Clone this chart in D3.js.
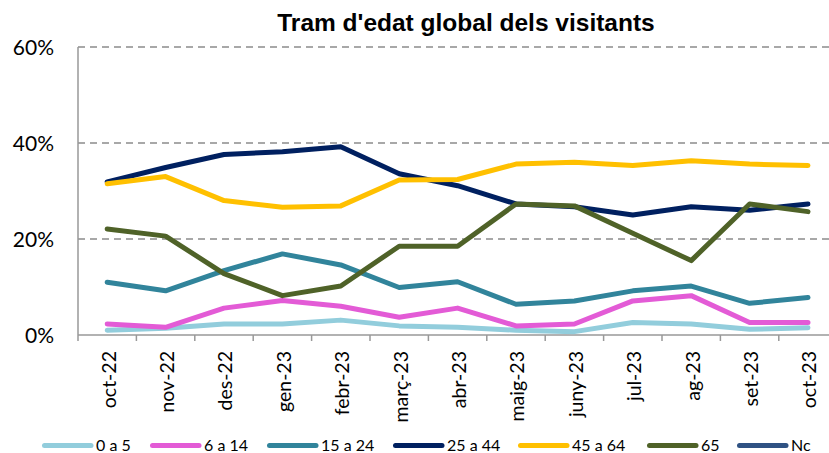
<!DOCTYPE html>
<html><head><meta charset="utf-8">
<script src="https://cdn.jsdelivr.net/npm/d3@7"></script>
<style>body{margin:0;background:#fff}svg{display:block}</style>
</head><body><svg id="c" width="829" height="453"></svg>
<script>
const categories = ["oct-22","nov-22","des-22","gen-23","febr-23","març-23","abr-23","maig-23","juny-23","jul-23","ag-23","set-23","oct-23"];
const s0a5   = [1.0,1.4,2.3,2.3,3.1,1.9,1.6,1.0,0.7,2.6,2.3,1.2,1.5];
const s6a14  = [2.3,1.6,5.6,7.2,6.0,3.7,5.6,1.9,2.3,7.1,8.2,2.6,2.6];
const s15a24 = [11.0,9.2,13.4,16.9,14.6,9.9,11.1,6.4,7.1,9.2,10.2,6.6,7.8];
const s25a44 = [31.9,34.9,37.6,38.2,39.2,33.6,31.1,27.3,26.7,25.0,26.7,26.0,27.3];
const s45a64 = [31.5,33.0,28.0,26.6,26.9,32.3,32.4,35.6,36.0,35.3,36.3,35.6,35.3];
const s65    = [22.1,20.6,12.8,8.2,10.2,18.5,18.5,27.3,26.9,21.2,15.5,27.3,25.7];
const sNc    = [null,null,null,null,null,null,null,null,null,null,null,null,null];
const seriesNames = ["0 a 5","6 a 14","15 a 24","25 a 44","45 a 64","65","Nc"];
const seriesColors = ["#92CDDC","#E35BD6","#31849B","#002060","#FFC000","#4F6228","#2F5283"];
const yTicks = [0,20,40,60];
const title = "Tram d'edat global dels visitants";

(function(){
const series = [s0a5,s6a14,s15a24,s25a44,s45a64,s65,sNc];
const svg = d3.select("#c");
const pLeft = 78, pBottom = 335, pTop = 47, band = 58.4;
const x = d3.scaleBand().domain(categories).range([pLeft, pLeft + band*categories.length]);
const y = d3.scaleLinear().domain([0,60]).range([pBottom, pTop]);

svg.append("text").attr("x",466).attr("y",31).attr("text-anchor","middle")
  .attr("font-family","Liberation Sans, Arial, sans-serif").attr("font-weight","bold")
  .attr("font-size",24.5).attr("fill","#000").text(title);

svg.append("g").selectAll("line").data(yTicks.filter(d=>d>0)).join("line")
  .attr("x1",pLeft).attr("x2",829).attr("y1",d=>y(d)).attr("y2",d=>y(d))
  .attr("stroke","#8c8c8c").attr("stroke-width",1.5).attr("stroke-dasharray","7,5");

const yAxis = d3.axisLeft(y).tickValues(yTicks).tickSize(0).tickFormat(d=>d+"%");
const gy = svg.append("g").attr("transform",`translate(${pLeft},0)`).call(yAxis);
gy.select(".domain").remove();
gy.selectAll("text").attr("x",-24).attr("dy","0.36em").attr("font-size",21)
  .attr("font-family","Lato, Carlito, sans-serif").attr("fill","#000");
svg.append("line").attr("x1",pLeft).attr("x2",pLeft).attr("y1",pTop).attr("y2",pBottom)
  .attr("stroke","#999").attr("stroke-width",1.5);

const xAxis = d3.axisBottom(x).tickSize(0);
const gx = svg.append("g").attr("transform",`translate(0,${pBottom})`).call(xAxis);
gx.select(".domain").remove();
gx.selectAll("text").attr("transform","rotate(-90)").attr("text-anchor","end")
  .attr("x",-16).attr("y",1.5).attr("dy","0.35em").attr("font-size",19.5)
  .attr("font-family","Lato, Carlito, sans-serif").attr("fill","#000");
svg.append("line").attr("x1",pLeft).attr("x2",829).attr("y1",pBottom).attr("y2",pBottom)
  .attr("stroke","#999").attr("stroke-width",1.5);
const bounds = categories.map(c=>x(c)).concat([x.range()[1]]);
svg.append("g").selectAll("line").data(bounds).join("line")
  .attr("x1",d=>d).attr("x2",d=>d).attr("y1",pBottom).attr("y2",pBottom+6)
  .attr("stroke","#999").attr("stroke-width",1.5);

const line = d3.line().defined(d=>d.v!=null).x(d=>x(d.c)+x.bandwidth()/2).y(d=>y(d.v));
series.forEach((s,i)=>{
  svg.append("path").datum(s.map((v,j)=>({c:categories[j],v})))
    .attr("d",line).attr("fill","none").attr("stroke",seriesColors[i])
    .attr("stroke-width",5).attr("stroke-linejoin","round").attr("stroke-linecap","round");
});

const legX = [42,150,267,393,518,647,737];
const lg = svg.append("g");
seriesNames.forEach((n,i)=>{
  lg.append("line").attr("x1",legX[i]+2.5).attr("x2",legX[i]+49).attr("y1",445.5).attr("y2",445.5)
    .attr("stroke",seriesColors[i]).attr("stroke-width",5).attr("stroke-linecap","round");
  lg.append("text").attr("x",legX[i]+54).attr("y",451).attr("font-size",16)
    .attr("font-family","Lato, Carlito, sans-serif").attr("fill","#000").text(n);
});
})();
</script></body></html>
